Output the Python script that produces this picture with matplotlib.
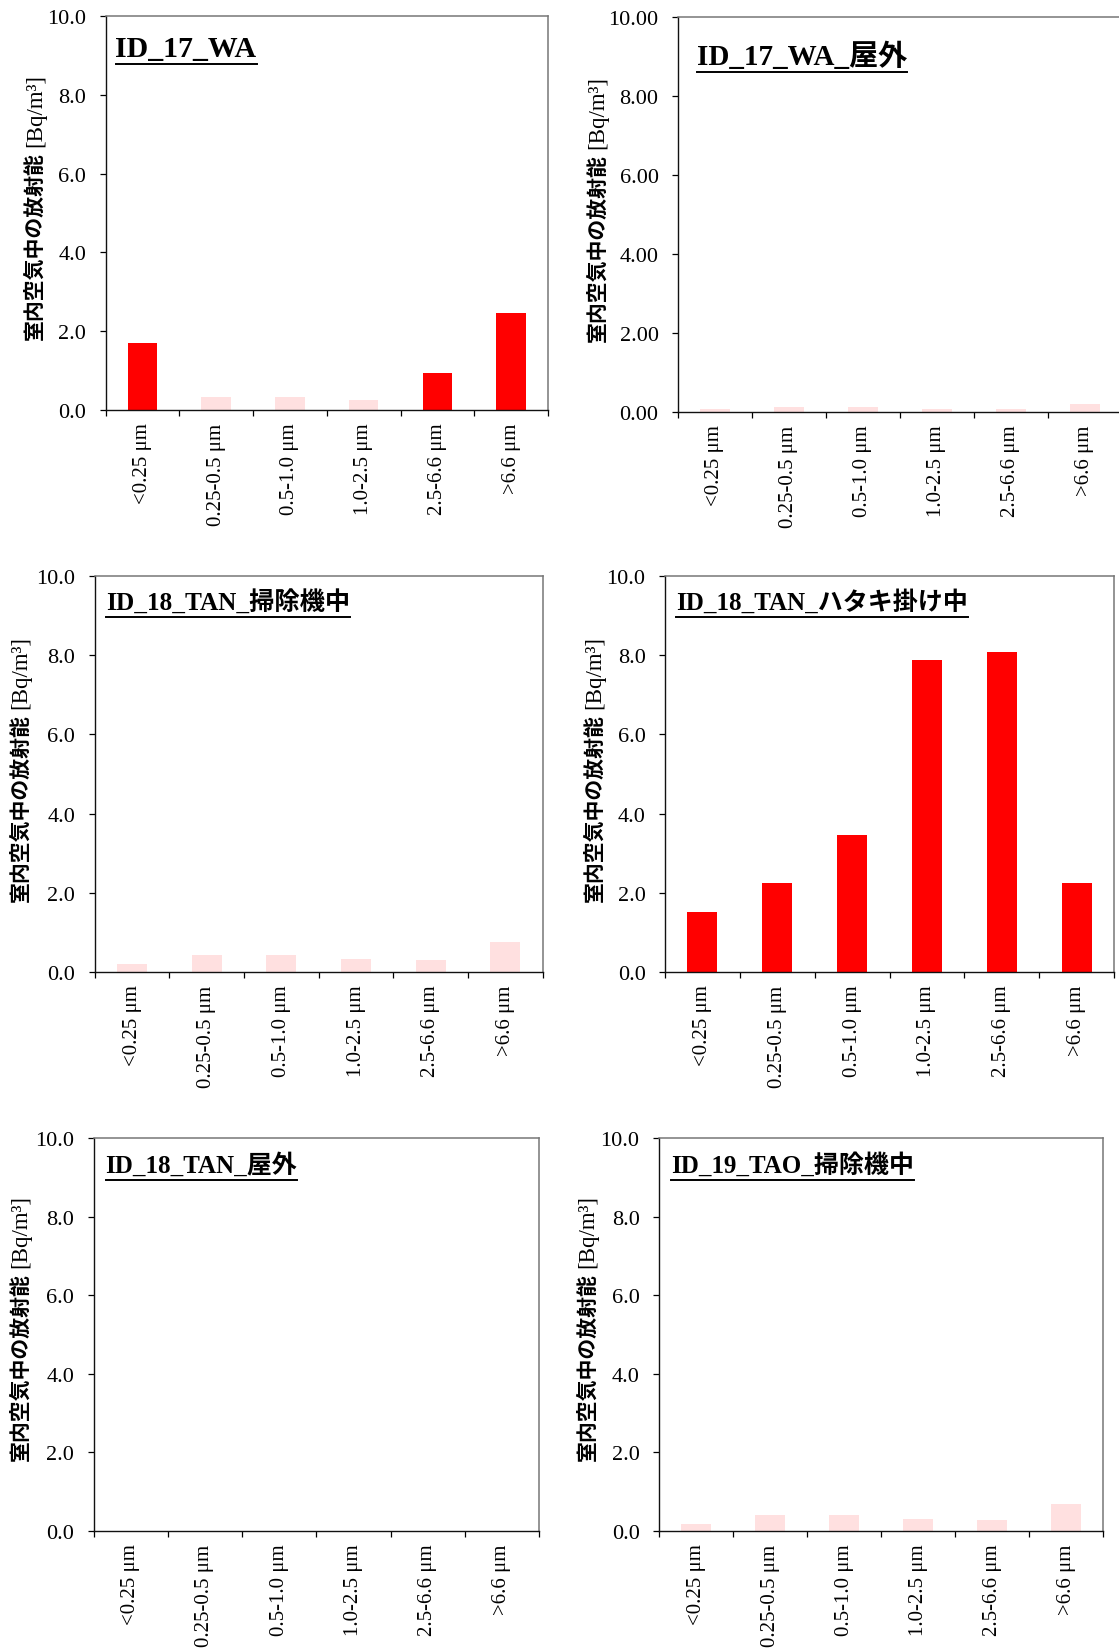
import numpy as np
import matplotlib.pyplot as plt
from matplotlib.lines import Line2D
from matplotlib.ticker import FormatStrFormatter

plt.rcParams['font.family'] = ['Liberation Serif', 'Noto Sans CJK JP']

# 粒径区分
sizes = ['<0.25 μm', '0.25-0.5 μm', '0.5-1.0 μm', '1.0-2.5 μm', '2.5-6.6 μm', '>6.6 μm']

# 各測定の放射能 [Bq/m3] と検出フラグ (0 = 検出下限未満)
vals_17_wa = [1.69, 0.32, 0.32, 0.25, 0.95, 2.47]
det_17_wa = [1, 0, 0, 0, 1, 1]

vals_17_wa_out = [0.07, 0.12, 0.12, 0.07, 0.07, 0.21]
det_17_wa_out = [0, 0, 0, 0, 0, 0]

vals_18_tan_vac = [0.19, 0.44, 0.44, 0.33, 0.31, 0.76]
det_18_tan_vac = [0, 0, 0, 0, 0, 0]

vals_18_tan_duster = [1.52, 2.26, 3.47, 7.87, 8.08, 2.26]
det_18_tan_duster = [1, 1, 1, 1, 1, 1]

vals_18_tan_out = [0.0, 0.0, 0.0, 0.0, 0.0, 0.0]
det_18_tan_out = [0, 0, 0, 0, 0, 0]

vals_19_tao_vac = [0.19, 0.40, 0.40, 0.30, 0.28, 0.69]
det_19_tao_vac = [0, 0, 0, 0, 0, 0]

titles = ['ID_17_WA', 'ID_17_WA_屋外', 'ID_18_TAN_掃除機中',
          'ID_18_TAN_ハタキ掛け中', 'ID_18_TAN_屋外', 'ID_19_TAO_掃除機中']

RED = '#ff0000'
PINK = '#ffe0e0'

W, H = 1119, 1649
fig = plt.figure(figsize=(W / 100, H / 100), dpi=100)

titles_drawn = []


def add_panel(rect, title, vals, det, fmt, tsize, tdx, tdy, ldx):
    l, r, t, b = rect
    ax = fig.add_axes([l / W, 1 - b / H, (r - l) / W, (b - t) / H])
    x = np.arange(len(sizes))
    colors = [RED if d else PINK for d in det]
    ax.bar(x, vals, width=0.4, color=colors)
    ax.set_xlim(-0.5, 5.5)
    ax.set_ylim(0, 10)
    ax.set_yticks(np.arange(0, 11, 2))
    ax.yaxis.set_major_formatter(FormatStrFormatter(fmt))
    ax.set_xticks(x)
    ax.set_xticklabels(sizes, rotation=90)
    ax.set_xticks(np.arange(-0.5, 6, 1), minor=True)
    ax.tick_params(axis='x', which='major', length=0, pad=9, labelsize=15)
    ax.tick_params(axis='x', which='minor', length=4.5, width=0.9, direction='out')
    ax.tick_params(axis='y', length=4, width=0.9, pad=10, labelsize=16)
    ax.yaxis.set_minor_locator(plt.NullLocator())
    for side in ['left', 'bottom']:
        ax.spines[side].set_color('#111111')
        ax.spines[side].set_linewidth(1.0)
    for side in ['top', 'right']:
        ax.spines[side].set_color('#777777')
        ax.spines[side].set_linewidth(1.1)

    tt = ax.annotate(title, xy=(0, 1), xycoords='axes fraction',
                     xytext=(tdx, -tdy), textcoords='offset pixels',
                     ha='left', va='baseline', fontsize=tsize, fontweight='bold')
    titles_drawn.append((tt, H - t - tdy))

    jp = ax.annotate('室内空気中の放射能', xy=(0, 0), xycoords='axes fraction',
                     xytext=(-ldx, 71), textcoords='offset pixels',
                     rotation=90, ha='center', va='bottom', fontsize=15,
                     fontweight='bold', family='Noto Sans CJK JP')
    ax.annotate('[Bq/m³]', xy=(0.5, 1), xycoords=jp,
                xytext=(1, 5), textcoords='offset pixels',
                rotation=90, ha='center', va='bottom', fontsize=16.5,
                family='Liberation Serif')
    return ax


add_panel((105.5, 548, 17, 411), titles[0], vals_17_wa, det_17_wa,
          '%.1f', 21.5, 10, 40, 71)
add_panel((678, 1122, 18, 413), titles[1], vals_17_wa_out, det_17_wa_out,
          '%.2f', 21, 19, 47, 81)
add_panel((94.7, 542.7, 577, 973), titles[2], vals_18_tan_vac, det_18_tan_vac,
          '%.1f', 18.2, 11, 33, 75)
add_panel((665, 1114, 577, 973), titles[3], vals_18_tan_duster, det_18_tan_duster,
          '%.1f', 18, 11, 33, 71)
add_panel((93.6, 539, 1139, 1532), titles[4], vals_18_tan_out, det_18_tan_out,
          '%.1f', 18, 12, 34, 74)
add_panel((659, 1103, 1139, 1532), titles[5], vals_19_tao_vac, det_19_tao_vac,
          '%.1f', 18, 12, 34, 72)

# タイトルの下線
fig.canvas.draw()
renderer = fig.canvas.get_renderer()
for tt, base in titles_drawn:
    bb = tt.get_window_extent(renderer)
    y = base - 8
    fig.add_artist(Line2D([bb.x0 / W, bb.x1 / W], [y / H, y / H],
                          color='black', linewidth=1.4))

fig.savefig('out.png', dpi=100)
